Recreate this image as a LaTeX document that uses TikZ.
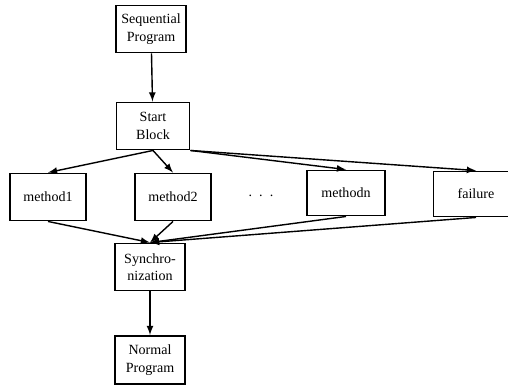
\documentclass[tikz,border=0pt]{standalone}
\usepackage{fontspec}
\setmainfont{Liberation Serif}
\usetikzlibrary{arrows}

\begin{document}
\begin{tikzpicture}[x=0.02cm,y=-0.02cm,thick,>=latex,
  block/.style={draw,line width=1.1pt,align=center,inner sep=1pt,
    font=\fontsize{8}{10}\selectfont,minimum width=1.4cm,minimum height=0.94cm}]
\useasboundingbox (0,0) rectangle (508,385);
\node[block] (seq) at (151,29) {Sequential\\Program};
\node[block,minimum width=1.46cm] (start) at (153,126) {Start\\Block};
\node[block,minimum width=1.52cm] (m1) at (48,197) {method1};
\node[block,minimum width=1.52cm] (m2) at (173,197) {method2};
\node[font=\fontsize{8}{10}\selectfont] (dots) at (261,196) {.\hspace{4pt}.\hspace{4pt}.};
\node[block,minimum width=1.56cm,minimum height=0.9cm] (mn) at (346,193) {methodn};
\node[block,minimum width=1.7cm,minimum height=0.9cm] (fail) at (476,194) {failure};
\node[block] (sync) at (150,267) {Synchro-\\nization};
\node[block,minimum height=0.96cm] (norm) at (150,360) {Normal\\Program};
% fan out from the start block
\draw[->] (seq)--(start);
\draw[->] (start.south)--(m1.north);
\draw[->] (start.south)--(m2.north);
\draw[->] (start.south east)--(mn.north);
\draw[->] (start.south east)--(fail.north);
% gather again
\draw[->] (m1.south)--(sync.north);
\draw[->] (m2.south)--(sync.north);
\draw[->] (mn.south)--(sync.north);
\draw[->] (fail.south)--(sync.north);
\draw[->] (sync)--(norm);
\end{tikzpicture}
\end{document}
